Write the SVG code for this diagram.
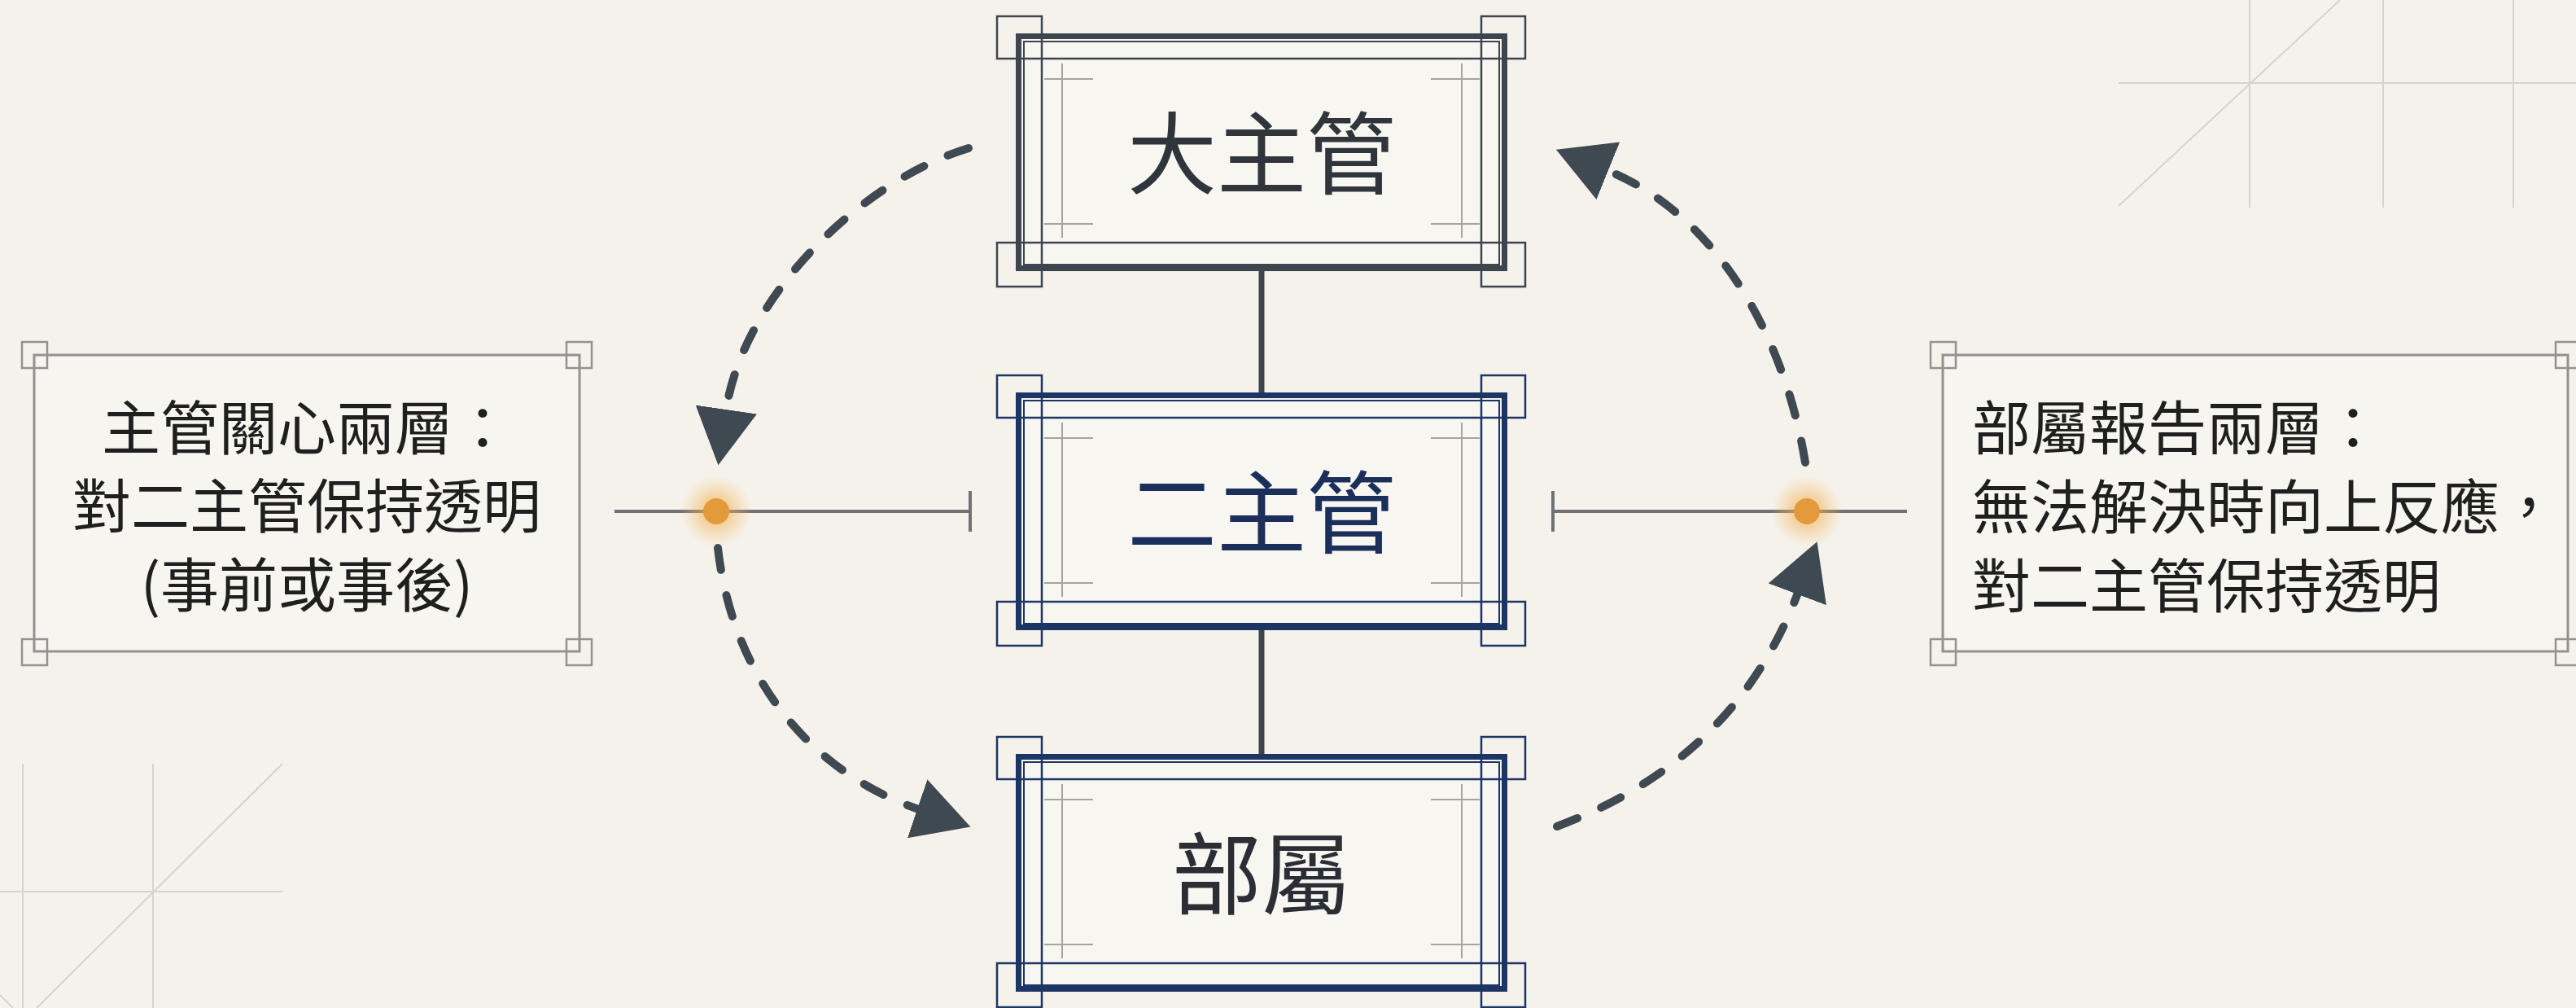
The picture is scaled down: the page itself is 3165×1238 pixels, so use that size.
<svg xmlns="http://www.w3.org/2000/svg" xmlns:xlink="http://www.w3.org/1999/xlink" width="3165" height="1238" viewBox="0 0 3165 1238">
<defs>
<style>
.bg{fill:#f5f2eb}
.grid{stroke:#d8d4cb;stroke-width:2;fill:none}
.sq{fill:none;stroke:currentColor;stroke-width:2.5}
.thick{fill:none;stroke:currentColor;stroke-width:7}
.thin{fill:none;stroke:currentColor;stroke-width:2}
.inner{fill:none;stroke:currentColor;stroke-width:2.5}
.detail{stroke:#a8a49b;stroke-width:2;fill:none}
.boxfill{fill:#f8f6f1}
.side{fill:#f7f5f0;stroke:#929290;stroke-width:3}
.sidesq{fill:none;stroke:#929290;stroke-width:2.5}
.main{font-family:"Noto Sans CJK TC","Noto Sans CJK SC",sans-serif;font-size:110px;text-anchor:middle}
.note{font-family:"Noto Sans CJK TC","Noto Sans CJK SC",sans-serif;font-size:72px;fill:#1f1f1f}
.flow{fill:none;stroke:#3f4951;stroke-width:10;stroke-linecap:round;stroke-dasharray:27 32}
.hline{stroke:#6e7276;stroke-width:4;fill:none}
.vconn{stroke:#3d464f;stroke-width:7}
</style>
<marker id="ah" markerUnits="userSpaceOnUse" viewBox="0 -40 72 80" refX="2" refY="0" markerWidth="72" markerHeight="80" orient="auto">
<path d="M0,-38 L69,0 L0,38 Z" fill="#3f4951"/>
</marker>
<radialGradient id="glow">
<stop offset="0" stop-color="#f0a840" stop-opacity="0.75"/>
<stop offset="0.45" stop-color="#f2b050" stop-opacity="0.45"/>
<stop offset="1" stop-color="#f5c070" stop-opacity="0"/>
</radialGradient>
<g id="frame">
<rect class="boxfill" x="1248" y="41" width="604" height="292"/>
<path class="detail" d="M1305,78 V292 M1283,97 H1343 M1283,275 H1343 M1796,78 V292 M1758,97 H1818 M1758,275 H1818"/>
<rect class="inner" x="1280" y="72" width="540" height="226"/>
<rect class="thick" x="1251.5" y="44.5" width="597" height="285"/>
<rect class="thin" x="1258" y="51" width="584" height="274"/>
<rect class="sq" x="1225" y="20" width="55" height="52"/>
<rect class="sq" x="1820" y="20" width="54" height="52"/>
<rect class="sq" x="1225" y="298" width="55" height="54"/>
<rect class="sq" x="1820" y="298" width="54" height="54"/>
</g>
</defs>

<rect class="bg" x="0" y="0" width="3165" height="1238"/>

<g id="background-lines">
<path class="grid" d="M2603,102 H3165 M2764,0 V255 M2928,0 V255 M3088,0 V255 M2603,253 L2875,0"/>
<path class="grid" d="M0,1095 H347 M28,938 V1238 M188,938 V1238 M347,938 L45,1238 M0,1222 L16,1238"/>
</g>

<g id="connectors">
<line class="vconn" x1="1550" y1="333" x2="1550" y2="483"/>
<line class="vconn" x1="1550" y1="774" x2="1550" y2="927"/>
<path class="hline" d="M755,628 H1192 M1192,603 V653"/>
<path class="hline" d="M2343,628 H1908 M1908,603 V653"/>
<path class="flow" d="M1190,182 C1056,223 912,366 892,505" marker-end="url(#ah)"/>
<path class="flow" d="M882,673 C901,841 1005,952 1129,994" marker-end="url(#ah)"/>
<path class="flow" d="M2218,568 C2194,420 2114,266 1974,209" marker-end="url(#ah)"/>
<path class="flow" d="M1913,1015 C2054,962 2156,869 2209,728" marker-end="url(#ah)"/>
<circle cx="880" cy="628" r="44" fill="url(#glow)"/>
<circle cx="880" cy="628" r="16" fill="#e39a3a"/>
<circle cx="2220" cy="628" r="44" fill="url(#glow)"/>
<circle cx="2220" cy="628" r="16" fill="#e39a3a"/>
</g>

<g id="node-top" style="color:#3d464f">
<use xlink:href="#frame"/>
<text class="main" x="1550" y="230" fill="#2f353b">大主管</text>
</g>

<g id="node-middle" style="color:#1c3564">
<use xlink:href="#frame" transform="translate(0,441)"/>
<text class="main" x="1550" y="671" fill="#1b2f5a">二主管</text>
</g>

<g id="node-bottom" style="color:#1c3564">
<use xlink:href="#frame" transform="translate(0,885)"/>
<text class="main" x="1550" y="1115" fill="#2b2f35">部屬</text>
</g>

<g id="note-left">
<rect class="side" x="42" y="436" width="670" height="364"/>
<rect class="sidesq" x="27" y="420" width="31" height="32"/>
<rect class="sidesq" x="696" y="420" width="31" height="32"/>
<rect class="sidesq" x="27" y="785" width="31" height="32"/>
<rect class="sidesq" x="696" y="785" width="31" height="32"/>
<text class="note" text-anchor="middle"><tspan x="377" y="552">主管關心兩層：</tspan><tspan x="377" y="648">對二主管保持透明</tspan><tspan x="377" y="745">(事前或事後)</tspan></text>
</g>

<g id="note-right">
<rect class="side" x="2387" y="436" width="768" height="364"/>
<rect class="sidesq" x="2372" y="420" width="31" height="32"/>
<rect class="sidesq" x="3140" y="420" width="31" height="32"/>
<rect class="sidesq" x="2372" y="785" width="31" height="32"/>
<rect class="sidesq" x="3140" y="785" width="31" height="32"/>
<text class="note"><tspan x="2423" y="552">部屬報告兩層：</tspan><tspan x="2423" y="649">無法解決時向上反應，</tspan><tspan x="2423" y="746">對二主管保持透明</tspan></text>
</g>
</svg>
